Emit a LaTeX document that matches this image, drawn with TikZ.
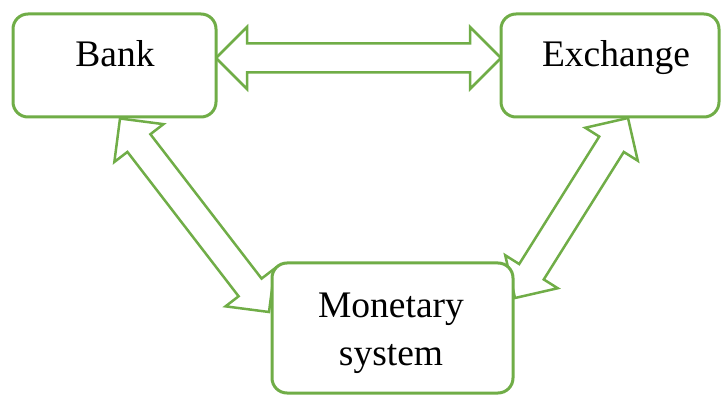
\documentclass[tikz,border=0pt]{standalone}
\usepackage{fontspec}
\setmainfont{Liberation Serif}
\usetikzlibrary{calc}
\definecolor{ogreen}{RGB}{112,173,71}
\tikzset{
  boxnode/.style={draw=ogreen, line width=3pt, rounded corners=15pt, fill=white,
    inner sep=0pt, outer sep=0pt},
  lbl/.style={inner sep=0pt, outer sep=0pt, anchor=base,
    font=\fontsize{37.5}{47}\selectfont, align=center},
  blockarr/.style={draw=ogreen, line width=2.5pt, line join=miter, fill=white},
}
\newcommand\dblblock[2]{%
  \draw[blockarr] (#1)
    -- ($(#1)!31pt!(#2)!31pt!90:(#2)$)
    -- ($(#1)!31pt!(#2)!14.5pt!90:(#2)$)
    -- ($(#2)!31pt!(#1)!14.5pt!-90:(#1)$)
    -- ($(#2)!31pt!(#1)!31pt!-90:(#1)$)
    -- (#2)
    -- ($(#2)!31pt!(#1)!31pt!90:(#1)$)
    -- ($(#2)!31pt!(#1)!14.5pt!90:(#1)$)
    -- ($(#1)!31pt!(#2)!14.5pt!-90:(#2)$)
    -- ($(#1)!31pt!(#2)!31pt!-90:(#2)$)
    -- cycle;}
\begin{document}
\begin{tikzpicture}[x=1pt,y=-1pt]
\useasboundingbox (0,0) rectangle (723,395);
% invisible geometry of boxes (for anchors)
\path (114.5,65.5) node[minimum width=203pt, minimum height=103pt, inner sep=0pt, outer sep=0pt] (bank) {};
\path (610,65.5) node[minimum width=218pt, minimum height=103pt, inner sep=0pt, outer sep=0pt] (exch) {};
\path (392.5,328) node[minimum width=241pt, minimum height=130pt, inner sep=0pt, outer sep=0pt] (mon) {};
% arrow tips
\coordinate (h1) at ([yshift=7.5pt]bank.east);
\coordinate (h2) at ([yshift=7.5pt]exch.west);
\coordinate (l1) at ([xshift=5.5pt,yshift=-1.5pt]bank.south);
\coordinate (l2) at ([xshift=-3pt,yshift=16pt]mon.west);
\coordinate (r1) at ([xshift=18pt,yshift=-1pt]exch.south);
\coordinate (r2) at ([xshift=2pt,yshift=30pt]mon.east);
% arrows
\dblblock{h1}{h2}
\dblblock{l1}{l2}
\dblblock{r1}{r2}
% boxes
\node[boxnode, minimum width=203pt, minimum height=103pt] (bankbox) at (bank) {};
\node[boxnode, minimum width=218pt, minimum height=103pt] (exchbox) at (exch) {};
\node[boxnode, minimum width=241pt, minimum height=130pt] (monbox) at (mon) {};
% labels
\node[lbl] (banklbl) at (115,67) {Bank};
\node[lbl] (exchlbl) at (616,67) {Exchange};
\node[lbl] (monlbl1) at (391,318) {Monetary};
\node[lbl] (monlbl2) at (391,365) {system};
\end{tikzpicture}
\end{document}
